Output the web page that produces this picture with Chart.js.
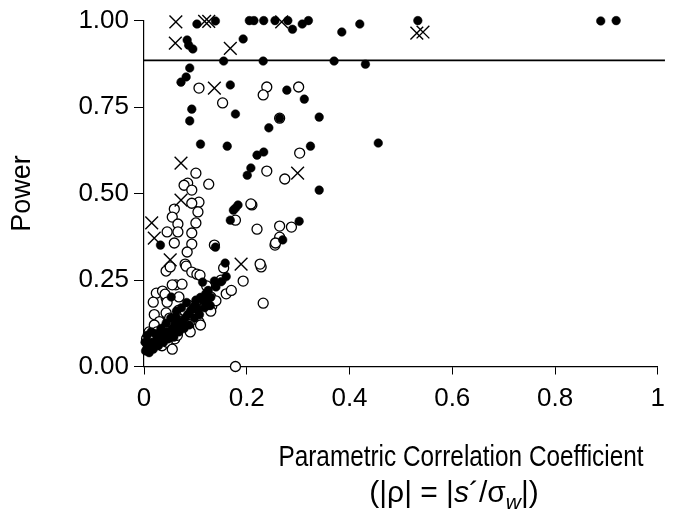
<!DOCTYPE html>
<html>
<head>
<meta charset="utf-8">
<script src="https://cdn.jsdelivr.net/npm/chart.js@4.4.1/dist/chart.umd.min.js"></script>
<style>
html, body { margin: 0; padding: 0; background: #fff; }
canvas { display: block; }
</style>
</head>
<body>
<canvas id="chart" width="674" height="515"></canvas>
<script>
// values: [correlation, power]
var filledPoints = [
  [0.103,0.990],[0.139,0.999],[0.205,1.0],[0.214,1.0],[0.233,1.0],[0.255,1.0],[0.280,1.0],[0.289,0.975],
  [0.308,0.990],[0.320,1.0],[0.385,0.967],[0.420,0.990],[0.533,1.0],[0.889,0.999],[0.919,1.0],
  [0.084,0.944],[0.087,0.929],[0.095,0.918],[0.193,0.947],[0.155,0.883],[0.232,0.883],[0.370,0.883],[0.431,0.874],
  [0.089,0.863],[0.082,0.837],[0.072,0.822],[0.168,0.814],[0.278,0.799],[0.312,0.773],[0.093,0.744],[0.178,0.730],
  [0.341,0.721],[0.089,0.710],[0.264,0.718],[0.243,0.690],[0.110,0.643],[0.162,0.637],[0.220,0.611],[0.233,0.620],
  [0.324,0.637],[0.456,0.646],[0.341,0.510],[0.302,0.420],[0.208,0.574],[0.201,0.553],[0.183,0.467],[0.174,0.452],
  [0.168,0.423],[0.178,0.458],[0.270,0.366],[0.032,0.351],[0.139,0.345],[0.158,0.299],[0.114,0.244],[0.137,0.247],
  [0.126,0.177],[0.101,0.192],[0.053,0.201],[0.062,0.143],[0.119,0.195],[0.129,0.176],
  [0.005,0.050],[0.008,0.060],[0.012,0.055],[0.015,0.070],[0.020,0.065],[0.025,0.080],[0.030,0.075],[0.035,0.090],
  [0.040,0.085],[0.045,0.100],[0.050,0.095],[0.055,0.110],[0.060,0.120],[0.065,0.105],[0.070,0.130],[0.075,0.125],
  [0.080,0.140],[0.085,0.150],[0.090,0.160],[0.095,0.170],[0.100,0.180],[0.105,0.165],[0.110,0.200],[0.115,0.190],
  [0.120,0.210],[0.125,0.220],[0.130,0.200],[0.003,0.045],[0.010,0.040],[0.018,0.050],[0.028,0.060],[0.038,0.070],
  [0.048,0.080],[0.058,0.085],[0.068,0.100],[0.078,0.110],[0.088,0.120],[0.098,0.140],[0.108,0.150],[0.118,0.170],
  [0.002,0.070],[0.006,0.090],[0.014,0.100],[0.022,0.095],[0.033,0.110],[0.043,0.125],[0.052,0.140],[0.063,0.160],
  [0.073,0.170],[0.083,0.185],[0.140,0.230],[0.150,0.245],[0.160,0.260]
];
var openPoints = [
  [0.107,0.805],[0.153,0.762],[0.239,0.808],[0.232,0.785],[0.301,0.808],[0.264,0.718],[0.303,0.617],[0.101,0.559],
  [0.239,0.565],[0.274,0.542],[0.085,0.530],[0.078,0.524],[0.093,0.510],[0.126,0.527],[0.107,0.475],[0.093,0.472],
  [0.059,0.455],[0.105,0.447],[0.055,0.432],[0.101,0.415],[0.066,0.412],[0.210,0.467],[0.220,0.397],[0.264,0.406],
  [0.287,0.403],[0.045,0.389],[0.066,0.389],[0.093,0.386],[0.059,0.357],[0.093,0.354],[0.137,0.351],[0.255,0.351],
  [0.264,0.374],[0.256,0.357],[0.084,0.331],[0.080,0.296],[0.043,0.276],[0.082,0.290],[0.093,0.273],[0.103,0.267],
  [0.155,0.285],[0.228,0.288],[0.193,0.247],[0.226,0.296],[0.178,0.423],[0.208,0.470],[0.232,0.183],[0.062,0.236],
  [0.074,0.238],[0.122,0.233],[0.024,0.212],[0.036,0.218],[0.018,0.186],[0.043,0.198],[0.068,0.201],[0.087,0.177],
  [0.130,0.201],[0.132,0.175],[0.068,0.163],[0.043,0.155],[0.091,0.149],[0.107,0.129],[0.087,0.114],[0.064,0.097],
  [0.178,0.000],[0.051,0.288],[0.109,0.264],[0.055,0.236],[0.041,0.209],[0.045,0.186],
  [0.020,0.150],[0.030,0.130],[0.050,0.140],[0.080,0.160],[0.100,0.170],[0.120,0.180],[0.140,0.190],[0.160,0.210],
  [0.150,0.250],[0.170,0.220],[0.010,0.100],[0.020,0.120],[0.040,0.110],[0.060,0.080],[0.070,0.130],[0.090,0.100],
  [0.110,0.120],[0.130,0.160],[0.005,0.080],[0.015,0.090],[0.025,0.100],[0.035,0.060],[0.045,0.070],[0.055,0.050],
  [0.065,0.090]
];
var crossPoints = [
  [0.062,0.996],[0.118,0.998],[0.126,0.998],[0.268,0.996],[0.531,0.964],[0.543,0.967],[0.061,0.935],[0.168,0.920],
  [0.137,0.805],[0.299,0.559],[0.072,0.588],[0.072,0.481],[0.015,0.415],[0.020,0.371],[0.051,0.308],[0.189,0.296]
];
var thresholdPower = 0.885;
var xTicks = [0, 0.2, 0.4, 0.6, 0.8, 1];
var yTicks = [0, 0.25, 0.5, 0.75, 1];

var fontFamily = "'Liberation Sans', Arial, sans-serif";
Chart.defaults.font.family = fontFamily;
Chart.defaults.color = '#000';

function toXY(list) {
  return list.map(function(p) { return { x: p[0], y: p[1] }; });
}

// x-axis title: first line a bit condensed, second line has italic s and subscript w
var axisTitle = {
  id: 'axisTitle',
  afterDraw: function(chart) {
    var ctx = chart.ctx, a = chart.chartArea;
    var sx = 0.84;
    var cx = a.left + (a.right - a.left) * 0.617;
    ctx.save();
    ctx.fillStyle = '#000';
    ctx.textBaseline = 'alphabetic';
    ctx.save();
    ctx.scale(sx, 1);
    ctx.textAlign = 'center';
    ctx.font = '29px ' + fontFamily;
    ctx.fillText('Parametric Correlation Coefficient', cx / sx, a.bottom + 99);
    ctx.restore();

    var parts = [
      ['(|\u03C1| = |', '30px ', 0],
      ['s', 'italic 30px ', 0],
      ['\u00B4/\u03C3', '30px ', 0],
      ['w', 'italic 21px ', 7],
      ['|)', '30px ', 0]
    ];
    var total = 0;
    parts.forEach(function(p) { ctx.font = p[1] + fontFamily; total += ctx.measureText(p[0]).width; });
    var x = cx - 7 - total / 2;
    ctx.textAlign = 'left';
    parts.forEach(function(p) {
      ctx.font = p[1] + fontFamily;
      ctx.fillText(p[0], x, a.bottom + 135 + p[2]);
      x += ctx.measureText(p[0]).width;
    });
    ctx.restore();
  }
};

new Chart(document.getElementById('chart'), {
  type: 'scatter',
  data: {
    datasets: [{
      label: 'cross',
      data: toXY(crossPoints),
      pointStyle: 'crossRot',
      pointRadius: 9,
      pointBorderWidth: 1.4,
      borderColor: '#000',
      backgroundColor: '#000',
      clip: false,
      order: 0
    }, {
      label: 'filled',
      data: toXY(filledPoints),
      pointStyle: 'circle',
      pointRadius: 4.3,
      pointBorderWidth: 0.5,
      borderColor: '#000',
      backgroundColor: '#000',
      clip: false,
      order: 1
    }, {
      label: 'open',
      data: toXY(openPoints),
      pointStyle: 'circle',
      pointRadius: 5,
      pointBorderWidth: 1.3,
      borderColor: '#000',
      backgroundColor: '#fff',
      clip: false,
      order: 2
    }, {
      type: 'line',
      label: 'threshold',
      data: [{ x: 0, y: thresholdPower }, { x: 1.014, y: thresholdPower }],
      borderColor: '#000',
      borderWidth: 1.6,
      pointRadius: 0,
      clip: false,
      order: 3
    }]
  },
  options: {
    responsive: false,
    animation: false,
    layout: { padding: { top: 20, right: 9, left: 0, bottom: 0 } },
    plugins: {
      legend: { display: false },
      tooltip: { enabled: false }
    },
    scales: {
      x: {
        type: 'linear',
        min: 0,
        max: 1,
        afterBuildTicks: function(scale) {
          scale.ticks = xTicks.map(function(v) { return { value: v }; });
        },
        afterFit: function(scale) { scale.height = 148.5; },
        ticks: {
          font: { size: 26 },
          padding: 9,
          maxRotation: 0,
          callback: function(v) { return String(v); }
        },
        grid: { display: true, drawOnChartArea: false, drawTicks: true, tickLength: 8, color: '#000', lineWidth: 1 },
        border: { display: true, color: '#000', width: 1.2 },
        title: { display: false }
      },
      y: {
        type: 'linear',
        min: 0,
        max: 1,
        afterBuildTicks: function(scale) {
          scale.ticks = yTicks.map(function(v) { return { value: v }; });
        },
        afterFit: function(scale) { scale.width = 144; },
        ticks: {
          font: { size: 26 },
          padding: 5,
          callback: function(v) { return v.toFixed(2); }
        },
        grid: { display: true, drawOnChartArea: false, drawTicks: true, tickLength: 10, color: '#000', lineWidth: 1 },
        border: { display: true, color: '#000', width: 1.2 },
        title: {
          display: true,
          text: 'Power',
          font: { size: 27 },
          padding: { top: 6, bottom: 0 }
        }
      }
    }
  },
  plugins: [axisTitle]
});
</script>
</body>
</html>
